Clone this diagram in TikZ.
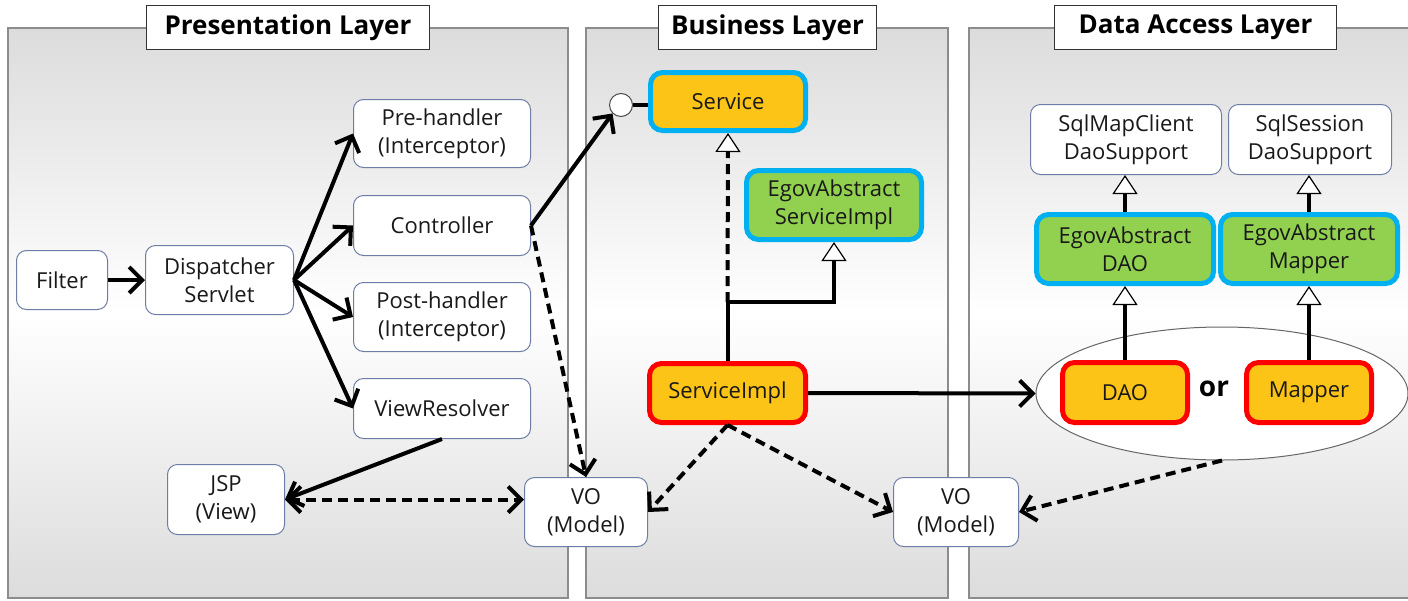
\documentclass[tikz,border=0pt]{standalone}
\usepackage{fontspec}
\setmainfont{Open Sans}
\usetikzlibrary{arrows.meta,shapes.geometric}
\definecolor{ylw}{RGB}{252,196,22}
\definecolor{grn}{RGB}{146,208,80}
\definecolor{cyanb}{RGB}{0,176,240}
\definecolor{redb}{RGB}{255,0,0}
\definecolor{wbord}{RGB}{110,125,165}
\definecolor{panelgray}{RGB}{220,220,220}
\definecolor{panelbord}{RGB}{140,140,140}
\definecolor{txt}{RGB}{25,25,25}
\tikzset{
  panel/.style={draw=panelbord, line width=1.5pt, top color=panelgray, bottom color=panelgray, middle color=white},
  titlebox/.style={draw=black!80, line width=1.5pt, fill=white, inner sep=0pt,
    font=\fontsize{26}{30}\selectfont\bfseries},
  base/.style={align=center, inner sep=0pt, text=txt, font=\fontsize{22}{28}\selectfont},
  wbox/.style={base, draw=wbord, line width=1pt, fill=white, rounded corners=10pt},
  ifbox/.style={base, draw=cyanb, line width=5pt, fill=ylw, rounded corners=12pt},
  absbox/.style={base, draw=cyanb, line width=5pt, fill=grn, rounded corners=12pt},
  implbox/.style={base, draw=redb, line width=5pt, fill=ylw, rounded corners=12pt},
  conn/.style={line width=4pt, -{Straight Barb[length=13pt,width=26pt]}},
  dconn/.style={conn, dash pattern=on 10pt off 6pt},
  inh/.style={line width=4pt, -{Triangle[fill=white,length=19pt,width=25pt,line width=1.2pt]}},
}
\begin{document}
\begin{tikzpicture}[x=1pt,y=-1pt]
\useasboundingbox (0,0) rectangle (1408,600);
% panels
\path[panel] (8,28) rectangle (568,598);
\path[panel] (586,28) rectangle (948,598);
\path[panel] (969,28) rectangle (1414,598);
\node[titlebox, minimum width=283pt, minimum height=44pt] (tp) at (288,27.5) {Presentation Layer};
\node[titlebox, minimum width=218pt, minimum height=44pt] (tb) at (767.5,27.5) {Business Layer};
\node[titlebox, minimum width=282pt, minimum height=44pt] (td) at (1195.5,27.5) {Data Access Layer};

% presentation nodes
\node[wbox, minimum width=91pt, minimum height=59pt] (filter) at (62,280) {Filter};
\node[wbox, minimum width=148pt, minimum height=69pt] (disp) at (219.5,280) {Dispatcher\\Servlet};
\node[wbox, minimum width=177pt, minimum height=68pt] (pre) at (442,133.5) {Pre-handler\\(Interceptor)};
\node[wbox, minimum width=177pt, minimum height=60pt] (ctrl) at (442,225.5) {Controller};
\node[wbox, minimum width=177pt, minimum height=69pt] (post) at (442,317) {Post-handler\\(Interceptor)};
\node[wbox, minimum width=177pt, minimum height=60pt] (vr) at (442,408.5) {ViewResolver};
\node[wbox, minimum width=117pt, minimum height=70pt] (jsp) at (226,499.5) {JSP\\(View)};
\node[wbox, minimum width=123pt, minimum height=69pt] (vo1) at (586,512) {VO\\(Model)};
\node[wbox, minimum width=125pt, minimum height=69pt] (vo2) at (956,512) {VO\\(Model)};

% business nodes
\node[ifbox, minimum width=155pt, minimum height=58pt] (svc) at (728,101.5) {Service};
\node[circle, draw=black!70, line width=1pt, fill=white, minimum size=23pt, inner sep=0pt] (lol) at (621,105) {};
\node[absbox, minimum width=175pt, minimum height=69pt] (egsi) at (834,205) {EgovAbstract\\ServiceImpl};
\node[implbox, minimum width=156pt, minimum height=59pt] (simpl) at (727.5,393) {ServiceImpl};

% data access nodes
\node[wbox, minimum width=191pt, minimum height=70pt] (sqlmap) at (1126,139.5) {SqlMapClient\\DaoSupport};
\node[wbox, minimum width=163pt, minimum height=70pt] (sqlsess) at (1310,139.5) {SqlSession\\DaoSupport};
\node[absbox, minimum width=177pt, minimum height=69pt] (egdao) at (1125,249) {EgovAbstract\\DAO};
\node[absbox, minimum width=177pt, minimum height=69pt] (egmap) at (1309,249) {EgovAbstract\\Mapper};
\node[ellipse, draw=black!60, line width=1pt, fill=white, minimum width=372pt, minimum height=133pt, inner sep=0pt] (ell) at (1222,393.5) {};
\node[implbox, minimum width=125pt, minimum height=60pt] (dao) at (1125,392.5) {DAO};
\node[implbox, minimum width=125pt, minimum height=60pt] (mapper) at (1309,392.5) {Mapper};
\node[base, font=\fontsize{28}{32}\selectfont\bfseries, text=black] (or) at (1214,389) {or};

% connectors
\draw[conn] (filter) -- (disp);
\draw[conn] (disp.east) -- (pre.west);
\draw[conn] (disp.east) -- (ctrl.west);
\draw[conn] (disp.east) -- (post.west);
\draw[conn] (disp.east) -- (vr.west);
\draw[conn] (ctrl.east) -- (lol.south west);
\draw[line width=4pt] (lol.east) -- (lol.east -| svc.west);
\draw[dconn] (ctrl.east) -- (vo1.north);
\draw[conn] (vr.south) -- (jsp.east);
\draw[dconn, {Straight Barb[length=13pt,width=26pt]}-{Straight Barb[length=13pt,width=26pt]}] (jsp.east) -- (jsp.east -| vo1.west);
\draw[dconn] (simpl.south) -- (vo1.east);
\draw[dconn] (simpl.south) -- (vo2.west);
\draw[dconn] (ell.south) -- (vo2.east);
\draw[conn] (simpl.east) -- (ell.west);
\coordinate (elb) at (727.5,302);
\draw[inh] (simpl.north) -- (elb) -| (egsi.south);
\draw[inh, dash pattern=on 10pt off 6pt] (elb) -- (svc.south);
\draw[inh] (dao.north) -- (egdao.south);
\draw[inh] (mapper.north) -- (egmap.south);
\draw[inh] (egdao.north) -- (egdao.north |- sqlmap.south);
\draw[inh] (egmap.north) -- (egmap.north |- sqlsess.south);
\end{tikzpicture}
\end{document}
